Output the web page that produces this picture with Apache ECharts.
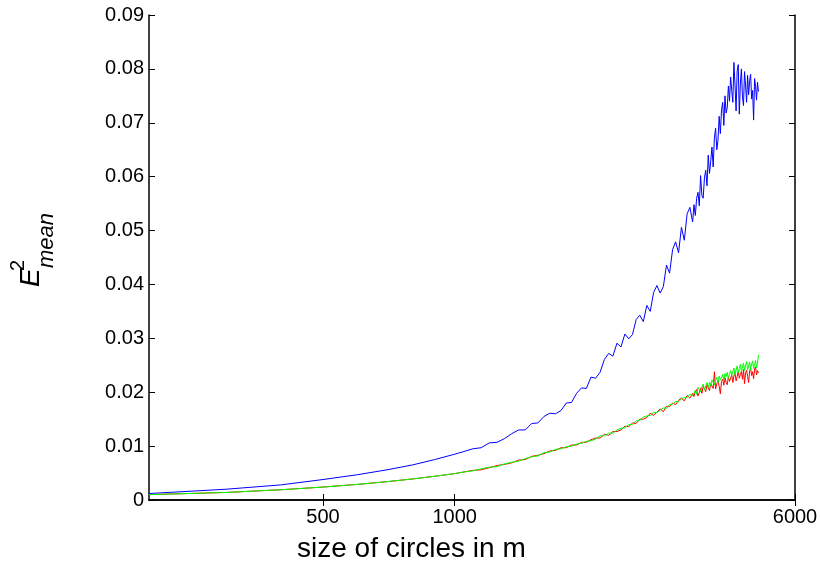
<!DOCTYPE html>
<html>
<head>
<meta charset="utf-8">
<script src="https://cdn.jsdelivr.net/npm/echarts@6/dist/echarts.min.js"></script>
<style>
  html, body { margin: 0; padding: 0; background: #fff; }
  #chart { width: 821px; height: 575px; }
</style>
</head>
<body>
<div id="chart"></div>
<script>
// circle sizes in m (x)
const sizes = [
  200, 300, 400, 500, 600, 700, 800, 900, 1000,
  1050, 1100, 1150, 1200, 1250, 1300, 1350, 1400, 1450, 1500,
  1550, 1600, 1650, 1700, 1750, 1800, 1850, 1900, 1950, 2000,
  2050, 2100, 2150, 2200, 2250, 2300, 2350, 2400, 2450, 2500,
  2550, 2600, 2650, 2700, 2750, 2800, 2850, 2900, 2950, 3000,
  3050, 3100, 3150, 3200, 3250, 3300, 3350, 3400, 3450, 3500,
  3525, 3550, 3575, 3600, 3625, 3650, 3675, 3700, 3725, 3750,
  3775, 3800, 3825, 3850, 3875, 3900, 3925, 3950, 3975, 4000,
  4025, 4050, 4075, 4100, 4125, 4150, 4175, 4200, 4225, 4250,
  4275, 4300, 4325, 4350, 4375, 4400, 4425, 4450, 4475, 4500,
  4525, 4550, 4575, 4600, 4625, 4650, 4675, 4700, 4725, 4750,
  4775, 4800, 4825, 4850, 4875, 4900, 4925, 4950
];

const blueErr = [
  0.0012, 0.0020, 0.0028, 0.0038, 0.0047, 0.0056, 0.0065, 0.0075, 0.0085,
  0.0090, 0.0095, 0.0097, 0.0106, 0.0107, 0.0114, 0.0123, 0.0130, 0.0130, 0.0142,
  0.0143, 0.0155, 0.0161, 0.0160, 0.0166, 0.0180, 0.0181, 0.0198, 0.0208, 0.0207,
  0.0228, 0.0226, 0.0237, 0.0261, 0.0272, 0.0267, 0.0291, 0.0284, 0.0308, 0.0299,
  0.0307, 0.0335, 0.0343, 0.0331, 0.0361, 0.0350, 0.0385, 0.0398, 0.0384, 0.0396,
  0.0436, 0.0421, 0.0465, 0.0479, 0.0459, 0.0506, 0.0482, 0.0531, 0.0543, 0.0516,
  0.0548, 0.0528, 0.0560, 0.0571, 0.0546, 0.0602, 0.0565, 0.0560, 0.0598, 0.0612,
  0.0583, 0.0640, 0.0606, 0.0628, 0.0655, 0.0618, 0.0672, 0.0690, 0.0650, 0.0668,
  0.0712, 0.0680, 0.0724, 0.0738, 0.0695, 0.0750, 0.0718, 0.0728, 0.0768, 0.0740,
  0.0785, 0.0760, 0.0738, 0.0812, 0.0770, 0.0722, 0.0796, 0.0808, 0.0716, 0.0772,
  0.0800, 0.0748, 0.0732, 0.0795, 0.0770, 0.0738, 0.0788, 0.0752, 0.0778, 0.0790,
  0.0744, 0.0760, 0.0705, 0.0782, 0.0768, 0.0742, 0.0775, 0.0758
];

const redErr = [
  0.0010, 0.0014, 0.0019, 0.0024, 0.0029, 0.0034, 0.0039, 0.0044, 0.0049,
  0.0052, 0.0055, 0.0056, 0.0060, 0.0064, 0.0066, 0.0069, 0.0074, 0.0075, 0.0081,
  0.0083, 0.0086, 0.0091, 0.0092, 0.0097, 0.0097, 0.0102, 0.0102, 0.0107, 0.0107,
  0.0112, 0.0115, 0.0115, 0.0122, 0.0120, 0.0127, 0.0127, 0.0130, 0.0137, 0.0136,
  0.0143, 0.0142, 0.0150, 0.0150, 0.0153, 0.0161, 0.0157, 0.0163, 0.0169, 0.0164,
  0.0174, 0.0173, 0.0180, 0.0177, 0.0185, 0.0189, 0.0184, 0.0194, 0.0189, 0.0198,
  0.0192, 0.0201, 0.0205, 0.0193, 0.0199, 0.0207, 0.0198, 0.0211, 0.0206, 0.0201,
  0.0214, 0.0209, 0.0203, 0.0216, 0.0219, 0.0207, 0.0238, 0.0206, 0.0216, 0.0221,
  0.0211, 0.0197, 0.0220, 0.0224, 0.0213, 0.0227, 0.0218, 0.0214, 0.0229, 0.0220,
  0.0226, 0.0232, 0.0218, 0.0230, 0.0236, 0.0221, 0.0229, 0.0239, 0.0226, 0.0233,
  0.0238, 0.0224, 0.0242, 0.0216, 0.0236, 0.0241, 0.0229, 0.0218, 0.0240, 0.0244,
  0.0231, 0.0238, 0.0225, 0.0243, 0.0247, 0.0232, 0.0240, 0.0236
];

const greenErr = [
  0.0010, 0.0014, 0.0019, 0.0024, 0.0029, 0.0034, 0.0039, 0.0044, 0.0049,
  0.0052, 0.0054, 0.0058, 0.0061, 0.0062, 0.0067, 0.0070, 0.0072, 0.0077, 0.0080,
  0.0082, 0.0088, 0.0089, 0.0094, 0.0095, 0.0099, 0.0100, 0.0104, 0.0105, 0.0109,
  0.0110, 0.0113, 0.0119, 0.0119, 0.0124, 0.0124, 0.0130, 0.0133, 0.0134, 0.0140,
  0.0140, 0.0147, 0.0148, 0.0154, 0.0156, 0.0157, 0.0163, 0.0162, 0.0167, 0.0171,
  0.0170, 0.0177, 0.0178, 0.0183, 0.0182, 0.0188, 0.0190, 0.0190, 0.0196, 0.0194,
  0.0198, 0.0204, 0.0196, 0.0209, 0.0212, 0.0201, 0.0210, 0.0215, 0.0204, 0.0212,
  0.0218, 0.0208, 0.0219, 0.0212, 0.0223, 0.0226, 0.0214, 0.0222, 0.0228, 0.0217,
  0.0230, 0.0223, 0.0226, 0.0233, 0.0222, 0.0235, 0.0229, 0.0237, 0.0226, 0.0233,
  0.0240, 0.0231, 0.0238, 0.0245, 0.0232, 0.0241, 0.0249, 0.0236, 0.0244, 0.0252,
  0.0238, 0.0247, 0.0254, 0.0240, 0.0250, 0.0257, 0.0242, 0.0249, 0.0256, 0.0241,
  0.0253, 0.0258, 0.0244, 0.0251, 0.0259, 0.0245, 0.0254, 0.0269
];

const xTickLabels = [500, 1000, 6000];
const xRange = [200, 6000];

const FONT = '"Liberation Sans", Arial, sans-serif';
const lg = (v) => Math.log10(v);
const xTicks = xTickLabels.map(lg);

const chart = echarts.init(document.getElementById('chart'), null, { renderer: 'canvas' });

// x is plotted as log10(size) so the custom ticks 500 / 1000 / 6000 land right
const toPoints = (vals) => sizes.map((s, i) => [lg(s), vals[i]]);

const lineSeries = (name, color, vals) => ({
  name,
  type: 'line',
  data: toPoints(vals),
  showSymbol: false,
  symbol: 'none',
  lineStyle: { color, width: 1 },
  itemStyle: { color },
  animation: false,
});

const axisLine = { show: true, lineStyle: { color: '#000', width: 1.5 } };

const option = {
  backgroundColor: '#fff',
  animation: false,
  grid: { left: 149, right: 26, top: 15, bottom: 75, outerBoundsMode: 'none' },
  xAxis: [
    {
      type: 'value',
      min: lg(xRange[0]),
      max: lg(xRange[1]),
      position: 'bottom',
      axisLine,
      axisTick: { inside: true, length: 6, customValues: xTicks, lineStyle: { color: '#000' } },
      axisLabel: {
        customValues: xTicks,
        color: '#000',
        fontFamily: FONT,
        fontSize: 20,
        margin: 7,
        formatter: (v) => String(Math.round(Math.pow(10, v))),
      },
      splitLine: { show: false },
    },
    {
      type: 'value',
      min: lg(xRange[0]),
      max: lg(xRange[1]),
      position: 'top',
      axisLine,
      axisTick: { inside: true, length: 6, customValues: xTicks, lineStyle: { color: '#000' } },
      axisLabel: { show: false },
      splitLine: { show: false },
    },
  ],
  yAxis: [
    {
      type: 'value',
      min: 0,
      max: 0.09,
      interval: 0.01,
      position: 'left',
      axisLine,
      axisTick: { inside: true, length: 6, lineStyle: { color: '#000' } },
      axisLabel: {
        color: '#000',
        fontFamily: FONT,
        fontSize: 20,
        margin: 5,
        formatter: (v) => (v === 0 ? '0' : v.toFixed(2)),
      },
      splitLine: { show: false },
    },
    {
      type: 'value',
      min: 0,
      max: 0.09,
      interval: 0.01,
      position: 'right',
      axisLine,
      axisTick: { inside: true, length: 6, lineStyle: { color: '#000' } },
      axisLabel: { show: false },
      splitLine: { show: false },
    },
  ],
  graphic: [
    {
      type: 'text',
      left: 297,
      top: 535,
      style: {
        text: 'size of circles in m',
        fill: '#000',
        font: '28px ' + FONT,
      },
    },
    {
      type: 'group',
      x: 40.7,
      y: 287,
      rotation: Math.PI / 2,
      children: [
        {
          type: 'text',
          x: 0,
          y: -9,
          style: {
            text: 'E',
            fill: '#000',
            font: 'italic 28px ' + FONT,
            verticalAlign: 'middle',
          },
        },
        {
          type: 'text',
          x: 16,
          y: -22,
          style: {
            text: '2',
            fill: '#000',
            font: '20px ' + FONT,
            verticalAlign: 'middle',
          },
        },
        {
          type: 'text',
          x: 19,
          y: 6,
          style: {
            text: 'mean',
            fill: '#000',
            font: 'italic 22px ' + FONT,
            verticalAlign: 'middle',
          },
        },
      ],
    },
  ],
  series: [
    lineSeries('blue', '#0000ff', blueErr),
    lineSeries('red', '#ff0000', redErr),
    lineSeries('green', '#00ff00', greenErr),
  ],
};

chart.setOption(option);
</script>
</body>
</html>
